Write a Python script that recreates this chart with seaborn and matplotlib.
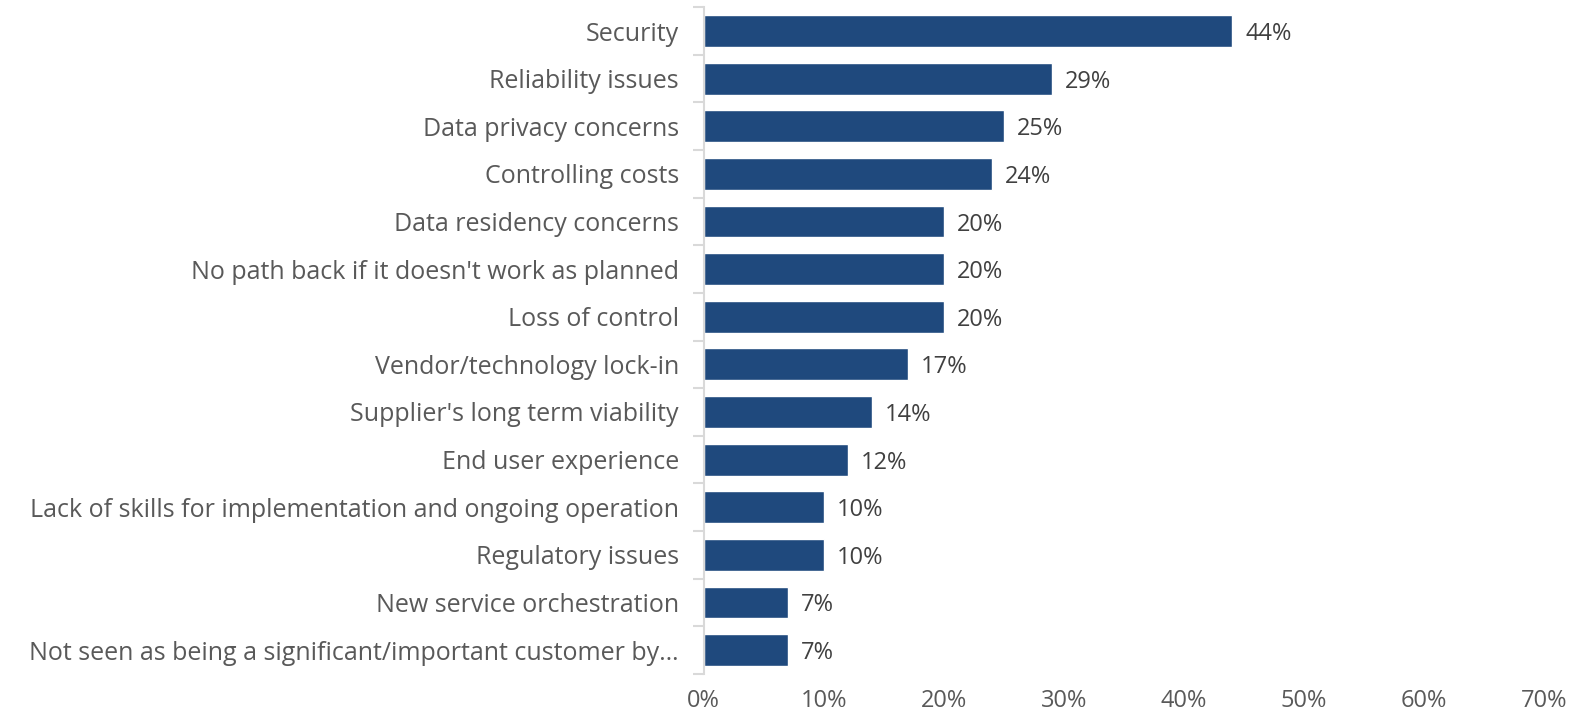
import numpy as np
import pandas as pd
import matplotlib
matplotlib.use("Agg")
import matplotlib.pyplot as plt
import seaborn as sns
from matplotlib.ticker import FixedLocator, PercentFormatter

categories = [
    "Security",
    "Reliability issues",
    "Data privacy concerns",
    "Controlling costs",
    "Data residency concerns",
    "No path back if it doesn't work as planned",
    "Loss of control",
    "Vendor/technology lock-in",
    "Supplier's long term viability",
    "End user experience",
    "Lack of skills for implementation and ongoing operation",
    "Regulatory issues",
    "New service orchestration",
    "Not seen as being a significant/important customer by\u2026",
]
values = [44, 29, 25, 24, 20, 20, 20, 17, 14, 12, 10, 10, 7, 7]
x_ticks = [0, 10, 20, 30, 40, 50, 60, 70]

df = pd.DataFrame({"category": categories, "value": values})

sns.set_theme(style="white")
plt.rcParams["font.family"] = ["Open Sans", "DejaVu Sans"]

fig = plt.figure(figsize=(15.71, 7.2), dpi=100)
ax = fig.add_axes([0.448, 0.064, 0.535, 0.926])

sns.barplot(data=df, x="value", y="category", color="#1F497D", width=0.67,
            saturation=1, ax=ax)

# value labels to the right of each bar
for i, v in enumerate(values):
    ax.text(v + 1.1, i, f"{v}%", va="center_baseline", ha="left",
            fontsize=17, color="#404040")

ax.set_xlim(0, 70)
ax.set_ylim(len(categories) - 0.5, -0.5)
ax.set_xticks(x_ticks)
ax.xaxis.set_major_formatter(PercentFormatter(decimals=0))
ax.tick_params(axis="x", length=0, labelsize=17, labelcolor="#595959", pad=11)
ax.tick_params(axis="y", which="major", length=0, labelsize=18,
               labelcolor="#595959", pad=18)
ax.yaxis.set_minor_locator(FixedLocator(np.arange(-0.5, len(categories), 1)))
ax.tick_params(axis="y", which="minor", left=True, length=8,
               color="#D9D9D9", width=1.5)
ax.set_xlabel("")
ax.set_ylabel("")

for s in ["top", "right", "bottom"]:
    ax.spines[s].set_visible(False)
ax.spines["left"].set_color("#D9D9D9")
ax.spines["left"].set_linewidth(1.5)

fig.savefig("out.png", dpi=100)
